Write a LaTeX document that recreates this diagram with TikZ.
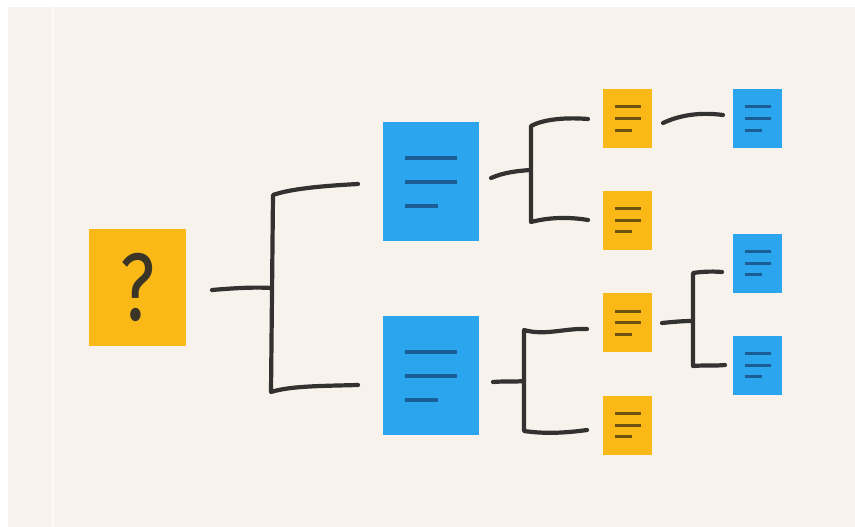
\documentclass[tikz,border=0pt]{standalone}
\usepackage{fontspec}
\setmainfont{Fira Sans}
\definecolor{bg}{HTML}{F7F3EC}
\definecolor{yel}{HTML}{FBB917}
\definecolor{blu}{HTML}{2BA6EE}
\definecolor{ink}{HTML}{333230}
\definecolor{yline}{HTML}{70520F}
\definecolor{bline}{HTML}{1B5E96}
\definecolor{qink}{HTML}{3B3528}
\newcommand\mysmalllines[1]{%
  \draw[line width=3pt,#1] ([xshift=-13pt,yshift=11.5pt]path picture bounding box.center) -- ++(26pt,0pt);
  \draw[line width=3pt,#1] ([xshift=-13pt,yshift=0pt]path picture bounding box.center) -- ++(26pt,0pt);
  \draw[line width=3pt,#1] ([xshift=-13pt,yshift=-11.5pt]path picture bounding box.center) -- ++(17pt,0pt);}
\newcommand\mybiglines[1]{%
  \draw[line width=4pt,#1] ([xshift=-26pt,yshift=24pt]path picture bounding box.center) -- ++(52pt,0pt);
  \draw[line width=4pt,#1] ([xshift=-26pt,yshift=0pt]path picture bounding box.center) -- ++(52pt,0pt);
  \draw[line width=4pt,#1] ([xshift=-26pt,yshift=-24pt]path picture bounding box.center) -- ++(33pt,0pt);}
\tikzset{
  box/.style={rectangle, inner sep=0pt, draw=none},
  qbox/.style={box, fill=yel, minimum width=97pt, minimum height=117pt, text=qink,
    font=\fontsize{96}{96}\selectfont},
  bigdoc/.style={box, fill=blu, minimum width=96pt, minimum height=119pt,
    path picture={\mybiglines{bline}}},
  ydoc/.style={box, fill=yel, minimum width=49pt, minimum height=59pt,
    path picture={\mysmalllines{yline}}},
  bdoc/.style={box, fill=blu, minimum width=49pt, minimum height=59pt,
    path picture={\mysmalllines{bline}}},
  conn/.style={draw=ink, line width=4.2pt, line cap=round, line join=round}
}
\begin{document}
\begin{tikzpicture}[x=1pt,y=-1pt]
\useasboundingbox (0,0) rectangle (855,527);
\fill[white] (0,0) rectangle (855,527);
\fill[bg] (8,7) rectangle (855,527);
\draw[white!60!bg, line width=1.5pt] (53,7) -- (53,527);

% nodes
\node[qbox] (q) at (137.5,287) {\raisebox{-2pt}{\scalebox{0.78}[1]{?}}};
\node[bigdoc] (b1) at (431,181.5) {};
\node[bigdoc] (b2) at (431,375.5) {};
\node[ydoc] (y1) at (627.5,118.5) {};
\node[ydoc] (y2) at (627.5,220) {};
\node[ydoc] (y3) at (627.5,322.5) {};
\node[ydoc] (y4) at (627.5,425) {};
\node[bdoc] (s1) at (757.5,118.5) {};
\node[bdoc] (s2) at (757.5,263) {};
\node[bdoc] (s3) at (757.5,365) {};

% connector coordinates
\coordinate (qa) at (212,290);
\coordinate (qj) at (271,288);
\coordinate (qt) at (273,195);
\coordinate (qb) at (271,392);
\coordinate (qte) at (358,184);
\coordinate (qbe) at (358,385);

\coordinate (ba) at (491,178);
\coordinate (bj) at (530,170);
\coordinate (bt) at (531,126);
\coordinate (bb) at (531,222);
\coordinate (bte) at (588,119);
\coordinate (bbe) at (588,220);

\coordinate (ca) at (493,382);
\coordinate (cj) at (524,381);
\coordinate (ct) at (524,330);
\coordinate (cb) at (524,431);
\coordinate (cte) at (587,329);
\coordinate (cbe) at (587,430);

\coordinate (da) at (663,123);
\coordinate (de) at (723,115);

\coordinate (ea) at (662,323);
\coordinate (ej) at (692,321);
\coordinate (et) at (693,273);
\coordinate (eb) at (693,366);
\coordinate (ete) at (722,272);
\coordinate (ebe) at (725,365);

% connectors
\draw[conn] (qa) .. controls (235,288) and (255,287) .. (qj);
\draw[conn] (qte) .. controls (320,186) and (290,189) .. (qt) -- (qb)
  .. controls (290,386) and (320,386) .. (qbe);

\draw[conn] (ba) .. controls (505,172) and (518,171) .. (bj);
\draw[conn] (bte) .. controls (562,117) and (542,120) .. (bt) -- (bb)
  .. controls (550,217) and (570,217) .. (bbe);

\draw[conn] (ca) .. controls (505,381) and (515,382) .. (cj);
\draw[conn] (cte) .. controls (565,328) and (545,336) .. (ct) -- (cb)
  .. controls (545,434) and (565,433) .. (cbe);

\draw[conn] (da) .. controls (680,115) and (700,112) .. (de);

\draw[conn] (ea) .. controls (672,322) and (682,321) .. (ej);
\draw[conn] (ete) .. controls (710,271) and (700,272) .. (et) -- (eb)
  .. controls (705,365) and (715,366) .. (ebe);
\end{tikzpicture}
\end{document}
